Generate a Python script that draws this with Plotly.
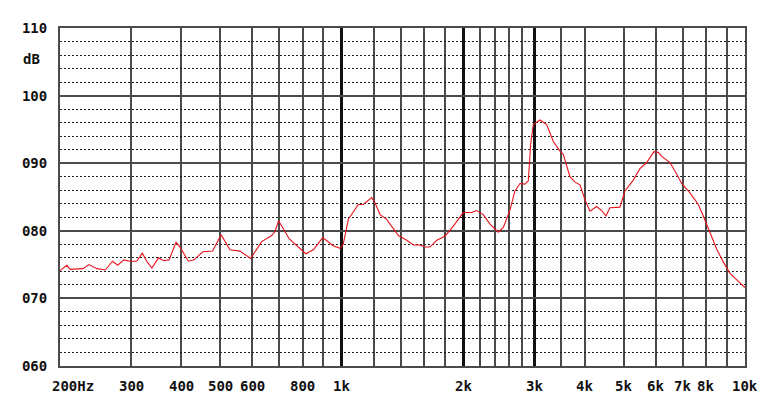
import numpy as np
import plotly.graph_objects as go

# Frequency response (Hz, dB)
freq_hz = [200, 208, 212, 218, 228, 236, 247, 259, 270, 278, 288, 298, 310, 320, 329, 338,
           351, 361, 373, 388, 397, 416, 430, 452, 478, 502, 528, 559, 594, 633, 670, 683,
           697, 741, 773, 814, 850, 897, 952, 990, 1008, 1038, 1099, 1130, 1186, 1209, 1244,
           1292, 1381, 1449, 1505, 1563, 1609, 1655, 1720, 1803, 1890, 2001, 2100, 2160, 2243,
           2331, 2444, 2515, 2613, 2688, 2766, 2846, 2901, 2940, 2985, 3101, 3222, 3346, 3476,
           3542, 3680, 3787, 3897, 4009, 4126, 4286, 4410, 4520, 4624, 4758, 4896, 5038, 5283,
           5489, 5703, 5946, 6094, 6213, 6515, 6769, 6965, 7303, 7659, 7880, 8187, 8506, 8833,
           9178, 9444, 10000]
level_db = [74.1, 74.9, 74.3, 74.3, 74.4, 75.0, 74.4, 74.2, 75.5, 74.9, 75.7, 75.5, 75.5, 76.7, 75.4, 74.5,
            76.0, 75.6, 75.7, 78.3, 77.6, 75.5, 75.7, 76.9, 77.0, 79.4, 77.2, 77.0, 75.9, 78.4, 79.3, 79.9,
            81.5, 78.8, 77.8, 76.6, 77.2, 79.0, 77.8, 77.4, 78.0, 81.7, 83.9, 83.9, 84.9, 84.1, 82.4,
            81.7, 79.3, 78.6, 77.9, 77.9, 77.6, 77.6, 78.6, 79.2, 80.7, 82.7, 82.7, 83.0, 82.4,
            81.0, 79.8, 80.5, 83.1, 85.9, 87.0, 86.9, 87.4, 92.8, 95.7, 96.4, 95.7, 93.2, 91.8,
            91.3, 88.0, 87.2, 86.8, 84.6, 82.9, 83.6, 83.0, 82.2, 83.4, 83.5, 83.5, 85.9, 87.5,
            89.2, 90.1, 91.7, 91.6, 91.0, 90.1, 88.4, 87.0, 85.6, 83.9, 82.2, 79.8, 77.3, 75.4,
            73.7, 73.0, 71.6]

# Axis ticks / grid
x_label_freqs = [200, 300, 400, 500, 600, 800, 1000, 2000, 3000, 4000, 5000, 6000, 7000, 8000, 10000]
x_label_texts = ["200Hz", "300", "400", "500", "600", "800", "1k", "2k", "3k", "4k", "5k", "6k", "7k", "8k", "10k"]
x_thick_grid = [1000, 2000, 3000]
x_thin_grid = [300, 400, 500, 600, 700, 800, 900, 1200, 1400, 1600, 1800,
               2200, 2400, 2600, 2800, 3500, 4000, 5000, 6000, 7000, 8000, 9000]
y_tick_vals = [60, 70, 80, 90, 100, 110]
y_tick_texts = ["060", "070", "080", "090", "100", "110"]
y_unit_label = "dB"
y_unit_pos = 105.4

FONT = dict(family="DejaVu Sans Mono", size=14, color="#111111", weight="bold")
GRID = "#4a4a4a"

fig = go.Figure()
fig.add_trace(go.Scatter(x=freq_hz, y=level_db, mode="lines",
                         line=dict(color="#e8141c", width=1.1), hoverinfo="skip"))

# page body has an 8px default margin, so the figure is sized/offset to compensate
fig.update_layout(
    width=770, height=401,
    margin=dict(l=52, r=33, t=13, b=43),
    paper_bgcolor="white", plot_bgcolor="white",
    showlegend=False,
    xaxis=dict(
        type="log", range=[np.log10(200), np.log10(10000)],
        tickmode="array", tickvals=x_thick_grid, showticklabels=False, ticks="",
        showgrid=True, gridcolor="#111111", gridwidth=3,
        minor=dict(tickmode="array", tickvals=x_thin_grid, showgrid=True,
                   gridcolor=GRID, gridwidth=2, ticks=""),
        showline=True, mirror=True, linecolor=GRID, linewidth=2, zeroline=False,
    ),
    yaxis=dict(
        range=[60, 110], tickmode="array", tickvals=y_tick_vals, ticktext=y_tick_texts,
        tickfont=FONT, ticks="", ticklabelstandoff=8,
        showgrid=True, gridcolor=GRID, gridwidth=2,
        minor=dict(dtick=2, showgrid=True, gridcolor="#222222", gridwidth=1,
                   griddash="2px,2px", ticks=""),
        showline=True, mirror=True, linecolor=GRID, linewidth=2, zeroline=False,
    ),
)

for f, t in zip(x_label_freqs, x_label_texts):
    first = (f == x_label_freqs[0])
    fig.add_annotation(x=np.log10(f), y=0, xref="x", yref="paper", text=t,
                       showarrow=False, font=FONT, yanchor="top", yshift=-10,
                       xanchor="left" if first else "center", xshift=-10 if first else 0)

fig.add_annotation(x=0, y=y_unit_pos, xref="paper", yref="y", text=y_unit_label,
                   showarrow=False, font=FONT, xanchor="right", xshift=-18)

fig.write_html("out.html")
